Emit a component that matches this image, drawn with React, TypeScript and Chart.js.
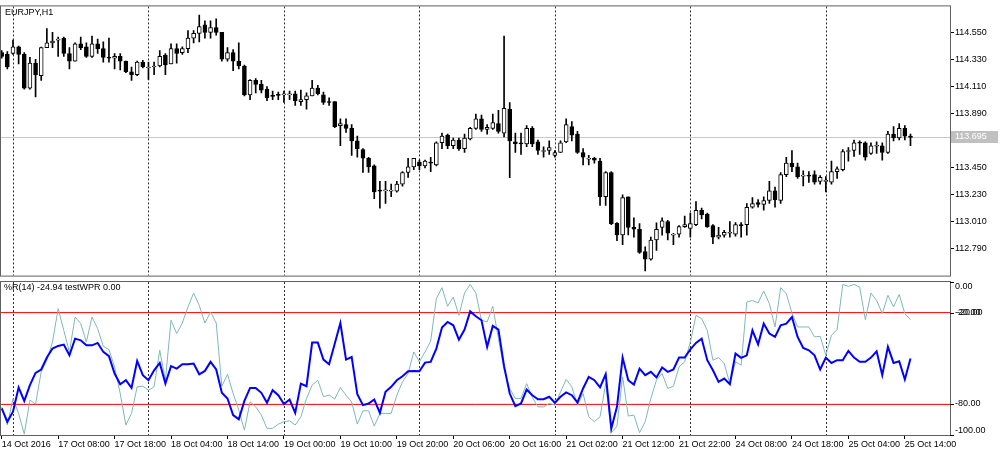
import React, { useEffect, useRef } from 'react';
import { Chart, registerables } from 'chart.js';

Chart.register(...registerables);

const FONT = '"Liberation Sans", Arial, sans-serif';

// ---- EURJPY H1 candles (14 Oct 22:00 .. 25 Oct 15:00) ----
const opens = [
  114.386, 114.371, 114.379, 114.433, 114.371, 114.097, 114.300, 114.199, 114.426, 114.465,
  114.488, 114.504, 114.379, 114.316, 114.457, 114.433, 114.355, 114.457, 114.418, 114.347,
  114.340, 114.355, 114.316, 114.230, 114.206, 114.308, 114.261, 114.269, 114.277, 114.363,
  114.293, 114.418, 114.386, 114.418, 114.504, 114.543, 114.613, 114.551, 114.590, 114.551,
  114.332, 114.386, 114.316, 114.277, 114.042, 114.160, 114.128, 114.089, 114.034, 114.042,
  114.042, 114.042, 114.050, 113.987, 114.003, 114.034, 114.097, 114.042, 113.987, 113.987,
  113.792, 113.800, 113.769, 113.667, 113.597, 113.526, 113.464, 113.262, 113.260, 113.258,
  113.258, 113.315, 113.410, 113.456, 113.495, 113.464, 113.495, 113.472, 113.652, 113.714,
  113.628, 113.675, 113.604, 113.683, 113.769, 113.847, 113.761, 113.769, 113.808, 113.730,
  113.925, 113.660, 113.652, 113.643, 113.769, 113.660, 113.581, 113.589, 113.550, 113.573,
  113.659, 113.784, 113.722, 113.573, 113.519, 113.526, 113.503, 113.213, 113.409, 112.997,
  112.903, 113.213, 112.963, 112.948, 112.767, 112.704, 112.861, 112.963, 113.010, 112.900,
  112.908, 112.970, 112.955, 112.986, 113.103, 113.072, 112.978, 112.884, 112.900, 112.916,
  112.908, 112.986, 112.986, 113.127, 113.166, 113.150, 113.182, 113.260, 113.182, 113.393,
  113.487, 113.456, 113.380, 113.388, 113.393, 113.338, 113.338, 113.331, 113.417, 113.433,
  113.581, 113.589, 113.654, 113.652, 113.565, 113.624, 113.628, 113.573, 113.722, 113.691,
  113.769, 113.706,
];
const highs = [
  114.402, 114.394, 114.488, 114.440, 114.386, 114.347, 114.332, 114.430, 114.582, 114.551,
  114.512, 114.512, 114.426, 114.465, 114.512, 114.465, 114.520, 114.496, 114.473, 114.504,
  114.379, 114.379, 114.316, 114.269, 114.316, 114.324, 114.308, 114.308, 114.402, 114.379,
  114.457, 114.457, 114.433, 114.566, 114.566, 114.692, 114.645, 114.645, 114.660, 114.551,
  114.426, 114.410, 114.465, 114.285, 114.167, 114.175, 114.160, 114.110, 114.073, 114.065,
  114.073, 114.073, 114.073, 114.081, 114.058, 114.160, 114.120, 114.065, 114.018, 113.987,
  113.847, 113.847, 113.800, 113.706, 113.605, 113.534, 113.472, 113.338, 113.338, 113.315,
  113.338, 113.417, 113.526, 113.526, 113.511, 113.511, 113.534, 113.660, 113.730, 113.722,
  113.690, 113.690, 113.722, 113.777, 113.886, 113.878, 113.800, 113.886, 113.917, 114.520,
  113.980, 113.730, 113.730, 113.792, 113.784, 113.675, 113.620, 113.667, 113.589, 113.667,
  113.847, 113.824, 113.745, 113.604, 113.550, 113.534, 113.526, 113.417, 113.417, 113.002,
  113.228, 113.213, 113.041, 112.994, 112.806, 112.884, 113.000, 113.041, 113.020, 112.916,
  112.978, 113.056, 113.080, 113.174, 113.120, 113.080, 112.986, 112.963, 112.939, 113.010,
  113.002, 113.002, 113.158, 113.205, 113.189, 113.213, 113.338, 113.291, 113.409, 113.534,
  113.589, 113.487, 113.424, 113.417, 113.424, 113.385, 113.377, 113.503, 113.456, 113.597,
  113.612, 113.675, 113.667, 113.660, 113.652, 113.660, 113.652, 113.745, 113.784, 113.808,
  113.792, 113.722,
];
const lows = [
  114.340, 114.253, 114.371, 114.293, 114.089, 114.089, 114.026, 114.160, 114.426, 114.426,
  114.355, 114.355, 114.253, 114.316, 114.410, 114.347, 114.347, 114.379, 114.308, 114.308,
  114.253, 114.245, 114.222, 114.160, 114.199, 114.261, 114.167, 114.206, 114.269, 114.206,
  114.293, 114.300, 114.371, 114.386, 114.465, 114.473, 114.504, 114.504, 114.527, 114.316,
  114.316, 114.238, 114.253, 114.034, 114.003, 114.058, 114.058, 113.995, 114.003, 114.003,
  113.980, 114.003, 113.956, 113.956, 113.925, 114.034, 114.042, 113.964, 113.956, 113.776,
  113.628, 113.737, 113.550, 113.534, 113.410, 113.410, 113.197, 113.119, 113.158, 113.213,
  113.250, 113.299, 113.370, 113.433, 113.433, 113.448, 113.417, 113.464, 113.604, 113.604,
  113.604, 113.589, 113.573, 113.675, 113.761, 113.745, 113.722, 113.761, 113.730, 113.700,
  113.369, 113.574, 113.558, 113.620, 113.620, 113.558, 113.534, 113.558, 113.534, 113.573,
  113.652, 113.667, 113.565, 113.472, 113.472, 113.487, 113.143, 113.143, 112.986, 112.856,
  112.822, 112.903, 112.884, 112.751, 112.610, 112.696, 112.775, 112.900, 112.861, 112.822,
  112.884, 112.963, 112.884, 112.978, 113.033, 112.963, 112.830, 112.869, 112.884, 112.884,
  112.892, 112.884, 112.900, 113.119, 113.127, 113.103, 113.158, 113.127, 113.158, 113.377,
  113.417, 113.362, 113.300, 113.330, 113.315, 113.315, 113.252, 113.315, 113.362, 113.424,
  113.503, 113.542, 113.558, 113.511, 113.558, 113.565, 113.511, 113.565, 113.667, 113.675,
  113.675, 113.628,
];
const closes = [
  114.355, 114.269, 114.433, 114.371, 114.097, 114.300, 114.206, 114.426, 114.465, 114.480,
  114.494, 114.379, 114.316, 114.457, 114.426, 114.355, 114.457, 114.418, 114.347, 114.340,
  114.355, 114.316, 114.230, 114.206, 114.308, 114.269, 114.269, 114.277, 114.355, 114.285,
  114.418, 114.379, 114.418, 114.504, 114.543, 114.598, 114.551, 114.590, 114.551, 114.332,
  114.386, 114.316, 114.277, 114.042, 114.160, 114.128, 114.081, 114.019, 114.030, 114.038,
  114.044, 114.050, 113.995, 114.003, 114.034, 114.097, 114.050, 113.980, 113.980, 113.784,
  113.808, 113.769, 113.667, 113.604, 113.526, 113.456, 113.252, 113.258, 113.262, 113.266,
  113.315, 113.410, 113.456, 113.526, 113.464, 113.503, 113.487, 113.652, 113.706, 113.628,
  113.675, 113.604, 113.690, 113.769, 113.847, 113.761, 113.777, 113.816, 113.745, 113.933,
  113.667, 113.645, 113.643, 113.769, 113.643, 113.589, 113.589, 113.612, 113.573, 113.652,
  113.800, 113.714, 113.573, 113.534, 113.526, 113.511, 113.213, 113.409, 112.994, 112.903,
  113.205, 112.963, 112.948, 112.759, 112.704, 112.861, 112.948, 113.017, 112.916, 112.908,
  112.970, 112.986, 112.994, 113.103, 113.064, 112.970, 112.884, 112.900, 112.923, 112.923,
  112.986, 112.978, 113.127, 113.158, 113.150, 113.182, 113.260, 113.189, 113.393, 113.487,
  113.456, 113.377, 113.388, 113.380, 113.331, 113.370, 113.342, 113.417, 113.440, 113.581,
  113.589, 113.652, 113.648, 113.534, 113.628, 113.632, 113.573, 113.722, 113.691, 113.769,
  113.706, 113.695,
];

// ---- indicator window ----
const testWpr = [
  -82.6, -91.3, -84.8, -69, -77.7, -67.4, -59.4, -57.2, -49.4, -43.5,
  -41.8, -40.9, -47.9, -37, -38.1, -41.4, -41.4, -39.8, -45.7, -48.5,
  -59.8, -66.8, -64.2, -69.2, -51.6, -60.9, -64.2, -57.7, -52.9, -66.4,
  -55, -56.6, -53.7, -53.7, -53.3, -60.3, -58.1, -52.2, -57.2, -72.4,
  -76.1, -87, -89.8, -77.7, -69.2, -69.2, -72.4, -78.9, -70.7, -74,
  -79.8, -76.8, -85.5, -66.4, -68.1, -39.6, -39.6, -50.7, -53.7, -40.3,
  -26.8, -50.7, -49, -73.3, -80.5, -79.4, -76.8, -85.5, -71.8, -68.5,
  -64.2, -61.6, -58.3, -58.1, -58.3, -52.7, -52.2, -43.5, -29.8, -26.1,
  -28.3, -37.7, -31.1, -19.2, -22.4, -25, -42.4, -28.7, -31.1, -55,
  -72.9, -81.1, -79.4, -70.3, -74, -76.6, -76.6, -75, -78.9, -75,
  -72.2, -74, -78.7, -69.6, -62, -64.2, -68.9, -60.3, -95.7, -81.6,
  -49.4, -64.2, -67, -56.6, -60.9, -58.7, -62.4, -55.9, -58.7, -57.2,
  -49.4, -49.4, -44, -39.8, -37, -51.1, -57.7, -65.3, -63.1, -66.8,
  -46.8, -49.6, -47.9, -31.6, -40.7, -27.2, -33.7, -35.9, -28.3, -27.2,
  -22.9, -35.9, -43.1, -44.6, -47.9, -57.2, -49.4, -52.9, -51.1, -51.1,
  -45, -49.4, -52.2, -52.2, -49.4, -45.3, -60.9, -42.4, -52.9, -51.8,
  -63.7, -50,
];
const wpr14 = [
  -81.6, -93.5, -76.1, -86, -99.4, -77.2, -79.8, -58.7, -51.1, -39.2,
  -17.4, -31.6, -45.7, -22.9, -27.2, -39.2, -22.9, -30.5, -42, -44.2,
  -55.5, -72.9, -93.5, -85.9, -68.5, -68.1, -70.7, -68.5, -44.6, -64.2,
  -25, -33.7, -26.8, -16.3, -7.2, -15.3, -26.8, -19.6, -26.8, -68.1,
  -60.3, -72.9, -83.7, -96.8, -78.3, -81.6, -87, -95.7, -95.7, -92.9,
  -91.3, -90.7, -93.5, -88.1, -76.1, -67.4, -64.2, -75, -73.9, -76.5,
  -69, -74, -78.3, -92.9, -84.2, -84.2, -94.2, -85.9, -85.9, -85.9,
  -74, -65.3, -59.8, -45.7, -52.2, -45.7, -38.6, -10.9, -3.7, -15.9,
  -9.8, -21.8, -7.2, -1.6, -7.2, -25, -26.1, -15.9, -37, -57.2,
  -69.6, -76.1, -76.1, -66.4, -75.5, -81.6, -81.6, -79.4, -80.5, -71.8,
  -63.7, -68.5, -80.5, -72.9, -88.1, -91.3, -88.1, -66.4, -98.5, -94.2,
  -62, -87.6, -87, -98.5, -91.3, -76.1, -64.2, -59.8, -69.6, -68.1,
  -55.5, -52.2, -39.2, -21.8, -23.9, -31.6, -51.1, -49.4, -53.3, -66.4,
  -52.2, -54.4, -13.1, -12, -13.7, -5.9, -14.2, -29.4, -3.7, -7.7,
  -20.3, -29.4, -29.4, -29.4, -35.9, -35.5, -47.9, -34.8, -31.1, -1.6,
  -2.9, -1.6, -3.3, -24.6, -7.2, -12, -20.7, -8.7, -16.3, -8.1,
  -20.7, -24.6,
];

const timeLabels = [
  '14 Oct 2016', '17 Oct 08:00', '17 Oct 18:00', '18 Oct 04:00', '18 Oct 14:00',
  '19 Oct 00:00', '19 Oct 10:00', '19 Oct 20:00', '20 Oct 06:00', '20 Oct 16:00',
  '21 Oct 02:00', '21 Oct 12:00', '21 Oct 22:00', '24 Oct 08:00', '24 Oct 18:00',
  '25 Oct 04:00', '25 Oct 14:00',
];
const labelStep = 10;
const daySeparators = [2, 26, 50, 74, 98, 122, 146];
const priceTicks = [114.55, 114.33, 114.11, 113.89, 113.67, 113.45, 113.23, 113.01, 112.79];
const priceMin = 112.571;
const priceMax = 114.762;
const currentPrice = 113.695;
const wprTicks = [0, -20, -80, -100];
const wprLevels = [-20, -80];
const xMin = -0.124;
const xMax = 168;

const symbolTitle = 'EURJPY,H1';
const indicatorTitle = '%R(14) -24.94 testWPR 0.00';

function drawSeparators(chart: any) {
  const { ctx, chartArea: a, scales } = chart;
  const x = scales.x;
  ctx.save();
  ctx.strokeStyle = '#303030';
  ctx.lineWidth = 1;
  ctx.setLineDash([2, 2]);
  daySeparators.forEach((i) => {
    const px = Math.round(x.getPixelForValue(i)) + 0.5;
    ctx.beginPath();
    ctx.moveTo(px, a.top);
    ctx.lineTo(px, a.bottom);
    ctx.stroke();
  });
  ctx.restore();
}

function drawFrame(chart: any) {
  const { ctx, chartArea: a } = chart;
  ctx.save();
  ctx.strokeStyle = '#606060';
  ctx.lineWidth = 1;
  ctx.strokeRect(a.left - 0.5, a.top - 0.5, a.right - a.left + 1, a.bottom - a.top + 1);
  ctx.restore();
}

const topDecor = {
  id: 'topDecor',
  beforeDatasetsDraw(chart: any) {
    drawSeparators(chart);
  },
  afterDraw(chart: any) {
    const { ctx, chartArea: a, scales } = chart;
    drawFrame(chart);
    ctx.save();
    ctx.font = `9px ${FONT}`;
    ctx.fillStyle = '#000';
    ctx.textBaseline = 'middle';
    ctx.textAlign = 'left';
    ctx.fillText(symbolTitle, a.left + 4, a.top + 6);
    const y = scales.y.getPixelForValue(currentPrice);
    ctx.fillStyle = '#c0c0c0';
    ctx.fillRect(a.right + 1, Math.round(y) - 6, 47, 12);
    ctx.fillStyle = '#ffffff';
    ctx.fillText(currentPrice.toFixed(3), a.right + 5, Math.round(y));
    ctx.restore();
  },
};

const bottomDecor = {
  id: 'bottomDecor',
  beforeDatasetsDraw(chart: any) {
    drawSeparators(chart);
  },
  afterDraw(chart: any) {
    const { ctx, chartArea: a, scales } = chart;
    drawFrame(chart);
    ctx.save();
    ctx.font = `9px ${FONT}`;
    ctx.fillStyle = '#000';
    ctx.textBaseline = 'middle';
    ctx.textAlign = 'left';
    ctx.fillText(indicatorTitle, a.left + 3, a.top + 6);
    ctx.strokeStyle = '#000';
    ctx.lineWidth = 1;
    wprTicks.forEach((v) => {
      const y = Math.round(scales.y.getPixelForValue(v));
      ctx.beginPath();
      ctx.moveTo(a.right, y + 0.5);
      ctx.lineTo(a.right + 4, y + 0.5);
      ctx.stroke();
      const ty = Math.min(Math.max(y, a.top + 5), a.bottom - 4);
      const txt = v.toFixed(2);
      ctx.fillText(txt, a.right + 5, ty);
      if (v === -20) ctx.fillText(txt, a.right + 7, ty);
    });
    ctx.restore();
  },
};

export default function App() {
  const topRef = useRef<HTMLCanvasElement>(null);
  const botRef = useRef<HTMLCanvasElement>(null);

  useEffect(() => {
    Chart.defaults.font.family = FONT;
    Chart.defaults.font.size = 9;
    Chart.defaults.color = '#000';

    const idx = opens.map((_, i) => i);
    const bull = idx.map((i) => closes[i] >= opens[i]);

    const top = new Chart(topRef.current as HTMLCanvasElement, {
      type: 'bar',
      data: {
        datasets: [
          {
            type: 'line',
            data: [
              { x: xMin, y: currentPrice },
              { x: xMax, y: currentPrice },
            ],
            borderColor: '#c8c8c8',
            borderWidth: 1,
            pointRadius: 0,
            order: 3,
          } as any,
          {
            type: 'bar',
            data: idx.map((i) => ({ x: i, y: [lows[i], highs[i]] })),
            backgroundColor: '#000',
            borderWidth: 0,
            barThickness: 1,
            grouped: false,
            order: 2,
          } as any,
          {
            type: 'bar',
            data: idx.map((i) => ({ x: i, y: [opens[i], closes[i]] })),
            backgroundColor: bull.map((b) => (b ? '#ffffff' : '#000000')),
            borderColor: '#000',
            borderWidth: 1,
            borderSkipped: false,
            barThickness: 4,
            minBarLength: 1,
            grouped: false,
            order: 1,
          } as any,
        ],
      },
      options: {
        responsive: false,
        animation: false,
        devicePixelRatio: 1,
        layout: { padding: { left: 1, top: 1, bottom: 2, right: 0 } },
        plugins: { legend: { display: false }, tooltip: { enabled: false } },
        scales: {
          x: { type: 'linear', min: xMin, max: xMax, offset: false, display: false },
          y: {
            position: 'right',
            min: priceMin,
            max: priceMax,
            afterBuildTicks: (s: any) => {
              s.ticks = priceTicks.map((v) => ({ value: v }));
            },
            afterFit: (s: any) => {
              s.width = 50;
            },
            ticks: {
              callback: (v: any) => Number(v).toFixed(3),
              padding: 1,
              color: '#000',
              font: { size: 9, family: FONT },
            },
            grid: { drawOnChartArea: false, drawTicks: true, tickLength: 4, color: '#000' },
            border: { display: true, color: '#606060' },
          },
        },
      } as any,
      plugins: [topDecor],
    });

    const bottom = new Chart(botRef.current as HTMLCanvasElement, {
      type: 'line',
      data: {
        datasets: [
          ...wprLevels.map((lv) => ({
            data: [
              { x: xMin, y: lv },
              { x: xMax, y: lv },
            ],
            borderColor: '#ff0000',
            borderWidth: 1,
            pointRadius: 0,
            order: 3,
          })),
          {
            data: idx.map((i) => ({ x: i, y: wpr14[i] })),
            borderColor: '#7fb8b8',
            borderWidth: 1,
            pointRadius: 0,
            tension: 0,
            order: 2,
          },
          {
            data: idx.map((i) => ({ x: i, y: testWpr[i] })),
            borderColor: '#0000ff',
            borderWidth: 2,
            pointRadius: 0,
            tension: 0,
            order: 1,
          },
        ],
      },
      options: {
        responsive: false,
        animation: false,
        devicePixelRatio: 1,
        layout: { padding: { left: 1, top: 1, bottom: 0, right: 0 } },
        plugins: { legend: { display: false }, tooltip: { enabled: false } },
        scales: {
          x: {
            type: 'linear',
            min: xMin,
            max: xMax,
            offset: false,
            afterBuildTicks: (s: any) => {
              s.ticks = timeLabels.map((_, k) => ({ value: k * labelStep }));
            },
            afterFit: (s: any) => {
              s.height = 15;
            },
            ticks: {
              callback: (_v: any, k: number) => timeLabels[k],
              autoSkip: false,
              maxRotation: 0,
              minRotation: 0,
              align: 'start',
              padding: 0,
              color: '#000',
              font: { size: 9, family: FONT },
            },
            grid: { drawOnChartArea: false, drawTicks: true, tickLength: 4, color: '#000' },
            border: { display: true, color: '#606060' },
          },
          y: {
            position: 'right',
            min: -100,
            max: 0,
            afterFit: (s: any) => {
              s.width = 50;
            },
            ticks: { display: false },
            grid: { display: false },
            border: { display: true, color: '#606060' },
          },
        },
      } as any,
      plugins: [bottomDecor],
    });

    return () => {
      top.destroy();
      bottom.destroy();
    };
  }, []);

  return (
    <div style={{ position: 'absolute', left: 0, top: 0, width: 1000, height: 450, background: '#fff' }}>
      <canvas ref={topRef} width={1000} height={282} style={{ position: 'absolute', left: 0, top: 0 }} />
      <canvas ref={botRef} width={1000} height={169} style={{ position: 'absolute', left: 0, top: 281 }} />
    </div>
  );
}
